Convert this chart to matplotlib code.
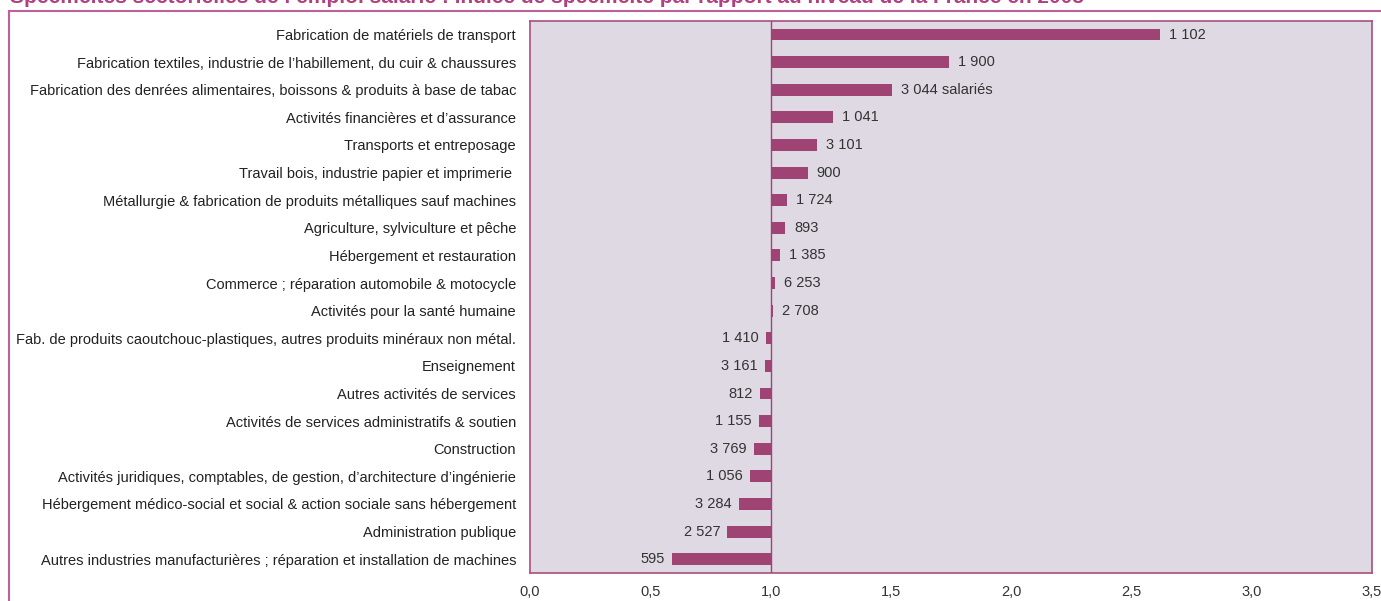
import matplotlib

matplotlib.use("Agg")
import matplotlib.pyplot as plt  # noqa: E402
from matplotlib.lines import Line2D  # noqa: E402

plt.rcParams["font.family"] = ["Liberation Sans", "DejaVu Sans"]

categories = [
    "Fabrication de matériels de transport",
    "Fabrication textiles, industrie de l’habillement, du cuir & chaussures",
    "Fabrication des denrées alimentaires, boissons & produits à base de tabac",
    "Activités financières et d’assurance",
    "Transports et entreposage",
    "Travail bois, industrie papier et imprimerie ",
    "Métallurgie & fabrication de produits métalliques sauf machines",
    "Agriculture, sylviculture et pêche",
    "Hébergement et restauration",
    "Commerce ; réparation automobile & motocycle",
    "Activités pour la santé humaine",
    "Fab. de produits caoutchouc-plastiques, autres produits minéraux non métal.",
    "Enseignement",
    "Autres activités de services",
    "Activités de services administratifs & soutien",
    "Construction",
    "Activités juridiques, comptables, de gestion, d’architecture d’ingénierie",
    "Hébergement médico-social et social & action sociale sans hébergement",
    "Administration publique",
    "Autres industries manufacturières ; réparation et installation de machines",
]
indices = [2.62, 1.74, 1.505, 1.26, 1.195, 1.155, 1.07, 1.06, 1.04, 1.02,
           1.01, 0.98, 0.975, 0.955, 0.95, 0.93, 0.913, 0.867, 0.82, 0.59]
labels = ["1 102", "1 900", "3 044 salariés", "1 041", "3 101", "900", "1 724",
          "893", "1 385", "6 253", "2 708", "1 410", "3 161", "812", "1 155",
          "3 769", "1 056", "3 284", "2 527", "595"]
xticks = [0.0, 0.5, 1.0, 1.5, 2.0, 2.5, 3.0, 3.5]

BAR = "#9e4374"
EDGE = "#a8507f"
PINK = "#c0609a"
BG = "#dfd9e4"
FS = 10.5

W, H = 1381, 601
fig = plt.figure(figsize=(W / 100, H / 100), dpi=100)
ax = fig.add_axes([530 / W, 1 - 573 / H, (1372 - 530) / W, (573 - 20.7) / H])
ax.set_facecolor(BG)

y = list(range(len(categories)))
ax.barh(y, [v - 1 for v in indices], left=1, height=0.43, color=BAR, zorder=2)
ax.axvline(1, color=BAR, lw=1, zorder=3)

px = 3.5 / (1372 - 530)
for yi, v, lab in zip(y, indices, labels):
    if v >= 1:
        ax.text(v + 9 * px, yi, lab, ha="left", va="center", fontsize=FS, color="#333333")
    else:
        ax.text(v - 7 * px, yi, lab, ha="right", va="center", fontsize=FS, color="#333333")

ax.set_xlim(0, 3.5)
ax.set_ylim(len(categories) - 0.5, -0.5)
ax.set_yticks(y)
ax.set_yticklabels(categories, fontsize=FS, color="#222222")
ax.set_xticks(xticks)
ax.set_xticklabels([f"{t:.1f}".replace(".", ",") for t in xticks], fontsize=FS, color="#333333")
ax.tick_params(axis="both", length=0)
ax.tick_params(axis="y", pad=10)
ax.tick_params(axis="x", pad=9)
for s in ax.spines.values():
    s.set_color(EDGE)
    s.set_linewidth(1.2)

# outer frame (top and left) and title, clipped at the top as in the source
fig.add_artist(Line2D([9 / W, 1], [1 - 10.7 / H] * 2, color=PINK, lw=1.5))
fig.add_artist(Line2D([9.3 / W] * 2, [0, 1 - 10.7 / H], color=PINK, lw=1.5))
fig.text(10 / W, 1 - 3 / H,
         "Spécificités sectorielles de l’emploi salarié : indice de spécificité par rapport au niveau de la France en 2008",
         ha="left", va="baseline", fontsize=15, fontweight="bold", color="#b0407f")

fig.savefig("out.png", dpi=100)
